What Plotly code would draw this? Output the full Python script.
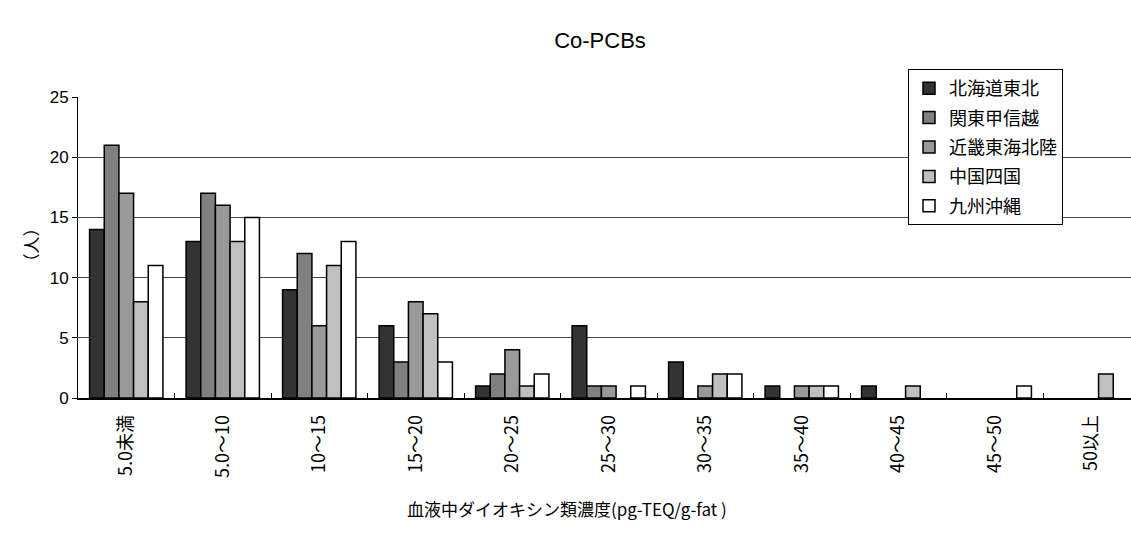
import plotly.graph_objects as go

categories = ["5.0未満", "5.0～10", "10～15", "15～20", "20～25", "25～30",
              "30～35", "35～40", "40～45", "45～50", "50以上"]
series_names = ["北海道東北", "関東甲信越", "近畿東海北陸", "中国四国", "九州沖縄"]
hokkaido_tohoku = [14, 13, 9, 6, 1, 6, 3, 1, 1, 0, 0]
kanto_koshinetsu = [21, 17, 12, 3, 2, 1, 0, 0, 0, 0, 0]
kinki_tokai_hokuriku = [17, 16, 6, 8, 4, 1, 1, 1, 0, 0, 0]
chugoku_shikoku = [8, 13, 11, 7, 1, 0, 2, 1, 1, 0, 2]
kyushu_okinawa = [11, 15, 13, 3, 2, 1, 2, 1, 0, 1, 0]
series_values = [hokkaido_tohoku, kanto_koshinetsu, kinki_tokai_hokuriku,
                 chugoku_shikoku, kyushu_okinawa]
colors = ["#333333", "#808080", "#999999", "#c0c0c0", "#ffffff"]
y_ticks = [0, 5, 10, 15, 20, 25]

W, H = 1131, 537
ML, MR, MT, MB = 78, 0, 97, 139
pw = W - ML - MR
ph = H - MT - MB
cat_px = 96.5

jp = "Noto Sans CJK JP, sans-serif"

fig = go.Figure()
for i, (name, vals) in enumerate(zip(series_names, series_values)):
    fig.add_trace(go.Bar(
        x=categories, y=[v if v else None for v in vals], name=name,
        marker=dict(color=colors[i], line=dict(color="#000000", width=1.5)),
        legendgroup=f"g{i}",
    ))

fig.update_layout(
    width=W, height=H,
    margin=dict(l=ML, r=MR, t=MT, b=MB, autoexpand=False),
    paper_bgcolor="white", plot_bgcolor="white",
    barmode="group", bargap=0.24, bargroupgap=0,
    title=dict(text="Co-PCBs", x=(600) / W, xanchor="center", y=1 - 40 / H, yanchor="middle",
               font=dict(family="Liberation Sans, Arial, sans-serif", size=22, color="#000")),
    legend=dict(
        x=(908 - ML) / pw, xanchor="left", y=(MT + ph - 69) / ph, yanchor="top",
        bgcolor="white", bordercolor="#000", borderwidth=1,
        font=dict(family=jp, size=18, color="#000"),
        tracegroupgap=3, itemwidth=30,
    ),
    showlegend=True,
)

fig.update_xaxes(
    type="category", automargin=False,
    range=[-0.5, -0.5 + pw / cat_px],
    showline=True, linecolor="#000", linewidth=1.5,
    ticks="inside", tickson="boundaries", ticklen=5, tickcolor="#000",
    tickangle=-90, ticklabelstandoff=8,
    tickfont=dict(family=jp, size=18, color="#000"),
    showgrid=False,
)
fig.update_yaxes(
    range=[0, 25], tickvals=y_ticks, automargin=False,
    showline=True, linecolor="#000", linewidth=1,
    ticks="outside", ticklen=5, tickcolor="#000",
    showgrid=True, gridcolor="#444", gridwidth=1,
    tickfont=dict(family="Liberation Sans, Arial, sans-serif", size=17, color="#000"),
    zeroline=False,
)

fig.add_annotation(
    text="（人）", xref="paper", yref="paper",
    x=(15 - ML) / pw, y=(MT + ph - 245) / ph, textangle=-90,
    showarrow=False, font=dict(family=jp, size=17, color="#000"),
)
fig.add_annotation(
    text="血液中ダイオキシン類濃度(pg-TEQ/g-fat )", xref="paper", yref="paper",
    x=(405 - ML) / pw, y=(MT + ph - 523) / ph,
    showarrow=False, font=dict(family=jp, size=17, color="#000"),
)

fig.write_html("out.html", config={"displayModeBar": False},
               post_script="document.body.style.margin='0';document.body.style.overflow='hidden';")
